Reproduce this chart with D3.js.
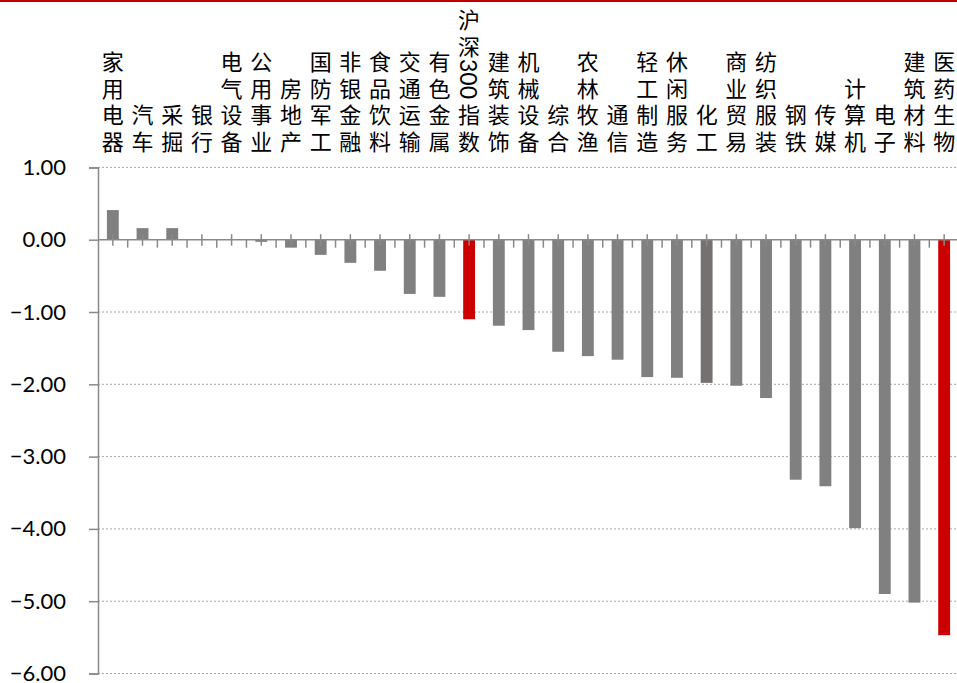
<!DOCTYPE html>
<html lang="zh">
<head>
<meta charset="UTF-8">
<title>行业涨跌幅</title>
<script src="https://d3js.org/d3.v7.min.js"></script>
<style>
    body { margin: 0; background: #fff; }
    svg { display: block; }
    .ylab { font-family: Lato, "Noto Sans", sans-serif; font-size: 22px; fill: #000; }
    .cat { font-family: "Noto Sans CJK SC", sans-serif; font-size: 22px; fill: #000; }
    .num { font-family: Lato, "Noto Sans", sans-serif; font-size: 23px; fill: #000; }
</style>
</head>
<body>
<svg></svg>
<script>
    const categories = [
        "家用电器", "汽车", "采掘", "银行", "电气设备", "公用事业", "房地产", "国防军工",
        "非银金融", "食品饮料", "交通运输", "有色金属", "沪深300指数", "建筑装饰", "机械设备",
        "综合", "农林牧渔", "通信", "轻工制造", "休闲服务", "化工", "商业贸易", "纺织服装",
        "钢铁", "传媒", "计算机", "电子", "建筑材料", "医药生物"
    ];
    const values = [
        0.41, 0.16, 0.16, 0.00, 0.00, -0.03, -0.11, -0.21,
        -0.32, -0.43, -0.75, -0.79, -1.10, -1.19, -1.25,
        -1.55, -1.61, -1.66, -1.90, -1.91, -1.98, -2.02, -2.19,
        -3.32, -3.41, -3.99, -4.90, -5.02, -5.47
    ];
    const redBars = ["沪深300指数", "医药生物"];
    const darkBars = ["化工"];
    const yTicks = [1, 0, -1, -2, -3, -4, -5, -6];

    const width = 957, height = 683;
    const svg = d3.select("svg").attr("width", width).attr("height", height);

    const x = d3.scaleBand()
        .domain(categories)
        .range([98, 959])
        .paddingInner(0.6)
        .paddingOuter(0.3);

    const y = d3.scaleLinear()
        .domain([-6, 1])
        .range([673.5, 167.4]);

    const data = categories.map((c, i) => ({ name: c, value: values[i] }));

    // top red rule
    svg.append("line")
        .attr("x1", 0).attr("x2", width)
        .attr("y1", 1).attr("y2", 1)
        .attr("stroke", "#c00000")
        .attr("stroke-width", 2);

    // dotted gridlines
    svg.append("g")
        .selectAll("line")
        .data(yTicks.filter(d => d !== 0))
        .enter().append("line")
        .attr("x1", 98).attr("x2", width)
        .attr("y1", d => y(d)).attr("y2", d => y(d))
        .attr("stroke", "#a6a6a6")
        .attr("stroke-width", 1)
        .attr("stroke-dasharray", "2,2");

    // bars
    svg.append("g")
        .selectAll("rect")
        .data(data)
        .enter().append("rect")
        .attr("x", d => x(d.name))
        .attr("width", x.bandwidth())
        .attr("y", d => y(Math.max(0, d.value)))
        .attr("height", d => Math.abs(y(d.value) - y(0)))
        .attr("fill", d => redBars.includes(d.name) ? "#cc0000"
            : darkBars.includes(d.name) ? "#767171" : "#808080");

    // y axis
    const yAxis = d3.axisLeft(y)
        .tickValues(yTicks)
        .tickSize(9)
        .tickPadding(23)
        .tickFormat(d3.format(".2f"));

    const gy = svg.append("g")
        .attr("transform", "translate(98,0)")
        .call(yAxis);
    gy.select(".domain").attr("stroke", "#898989").attr("stroke-width", 1.5);
    gy.selectAll(".tick line").attr("stroke", "#898989").attr("stroke-width", 1.5);
    gy.selectAll(".tick text").attr("class", "ylab").attr("font-size", null).attr("font-family", null);

    // x axis at zero with major (centre) and minor (boundary) ticks
    const y0 = y(0);
    const gx = svg.append("g");
    gx.append("line")
        .attr("x1", 98).attr("x2", width)
        .attr("y1", y0).attr("y2", y0)
        .attr("stroke", "#898989")
        .attr("stroke-width", 1.5);
    gx.selectAll(".mid")
        .data(categories)
        .enter().append("line")
        .attr("x1", d => x(d) + x.bandwidth() / 2)
        .attr("x2", d => x(d) + x.bandwidth() / 2)
        .attr("y1", y0 - 5.5).attr("y2", y0 + 6)
        .attr("stroke", "#898989")
        .attr("stroke-width", 1.5);
    gx.selectAll(".edge")
        .data(categories.slice(1))
        .enter().append("line")
        .attr("x1", d => x(d) - x.step() * x.paddingInner() / 2)
        .attr("x2", d => x(d) - x.step() * x.paddingInner() / 2)
        .attr("y1", y0).attr("y2", y0 + 8)
        .attr("stroke", "#898989")
        .attr("stroke-width", 1.5);

    // vertical category labels, bottom aligned
    const labels = svg.append("g");
    categories.forEach(c => {
        const cx = x(c) + x.bandwidth() / 2;
        const parts = c.match(/\d+|./g).reverse();
        let bottom = 153;
        parts.forEach(p => {
            if (/\d/.test(p)) {
                const h = p.length * 14;
                labels.append("text")
                    .attr("class", "num")
                    .attr("transform", `translate(${cx},${bottom - h / 2}) rotate(90)`)
                    .attr("text-anchor", "middle")
                    .attr("dominant-baseline", "central")
                    .text(p);
                bottom -= h;
            } else {
                const h = 26.5;
                labels.append("text")
                    .attr("class", "cat")
                    .attr("x", cx)
                    .attr("y", bottom - h / 2)
                    .attr("text-anchor", "middle")
                    .attr("dominant-baseline", "central")
                    .text(p);
                bottom -= h;
            }
        });
    });
</script>
</body>
</html>
